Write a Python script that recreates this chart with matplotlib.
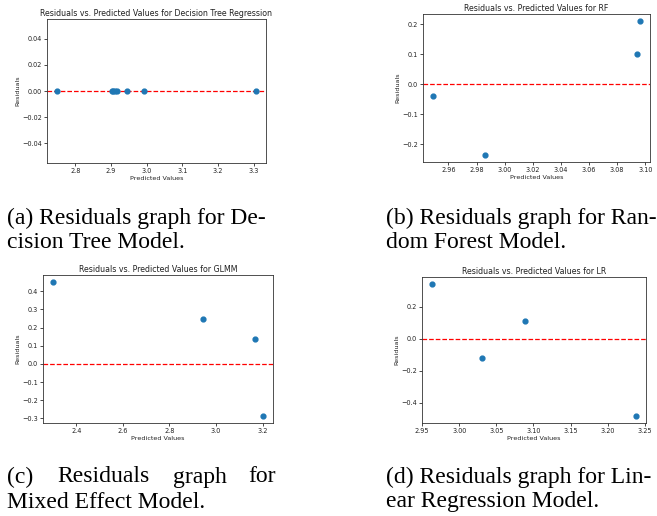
import matplotlib.pyplot as plt

# 四个模型的预测值与残差
dt_pred = [2.749, 2.902, 2.907, 2.912, 2.917, 2.944, 2.993, 3.306]
dt_resid = [0, 0, 0, 0, 0, 0, 0, 0]

rf_pred = [2.9493, 2.9863, 3.0941, 3.0960]
rf_resid = [-0.038, -0.237, 0.101, 0.211]

glmm_pred = [2.302, 2.946, 3.168, 3.200]
glmm_resid = [0.453, 0.250, 0.137, -0.289]

lr_pred = [2.9635, 3.0305, 3.088, 3.2379]
lr_resid = [0.344, -0.119, 0.108, -0.485]

titles = ['Residuals vs. Predicted Values for Decision Tree Regression',
          'Residuals vs. Predicted Values for RF',
          'Residuals vs. Predicted Values for GLMM',
          'Residuals vs. Predicted Values for LR']

W, H = 657, 516
fig = plt.figure(figsize=(W / 100, H / 100), dpi=100)


def px_axes(left, right, top, bottom):
    return fig.add_axes([left / W, 1 - bottom / H, (right - left) / W, (bottom - top) / H])


boxes = [(47, 266, 19, 163), (423, 650, 14, 162), (43, 273, 275, 423), (422, 646, 277, 423)]
data = [(dt_pred, dt_resid), (rf_pred, rf_resid), (glmm_pred, glmm_resid), (lr_pred, lr_resid)]

for box, (xs, ys), title in zip(boxes, data, titles):
    ax = px_axes(*box)
    ax.scatter(xs, ys, s=12, color='#1f77b4', zorder=3)
    ax.axhline(0, color='red', linestyle='--', linewidth=0.9)
    ax.set_title(title, fontsize=5.7, pad=2, color='#222222')
    ax.set_xlabel('Predicted Values', fontsize=4.6, labelpad=1.5, color='#222222')
    ax.set_ylabel('Residuals', fontsize=4.6, labelpad=1.5, color='#222222')
    ax.tick_params(labelsize=4.7, length=2, width=0.5, pad=1.5, labelcolor='#222222')
    for sp in ax.spines.values():
        sp.set_linewidth(0.6)
        sp.set_color('#333333')

# 子图说明文字（Times 风格）
cap = dict(family='Liberation Serif', fontsize=17, va='center', ha='left')
y1, y2 = 218, 243
y3, y4 = 477, 502
xr = 386
fig.text(7 / W, 1 - y1 / H, '(a) Residuals graph for De-', **cap)
fig.text(7 / W, 1 - y2 / H, 'cision Tree Model.', **cap)
fig.text(xr / W, 1 - y1 / H, '(b) Residuals graph for Ran-', **cap)
fig.text(xr / W, 1 - y2 / H, 'dom Forest Model.', **cap)

# (c) 第一行两端对齐
c_words = ['(c)', 'Residuals', 'graph', 'for']
c_x = [7, 57, 173, 248]
for w, x in zip(c_words, c_x):
    fig.text(x / W, 1 - y3 / H, w, **cap)
fig.text(7 / W, 1 - y4 / H, 'Mixed Effect Model.', **cap)
fig.text(xr / W, 1 - y3 / H, '(d) Residuals graph for Lin-', **cap)
fig.text(xr / W, 1 - y4 / H, 'ear Regression Model.', **cap)

fig.savefig('out.png', dpi=100)
